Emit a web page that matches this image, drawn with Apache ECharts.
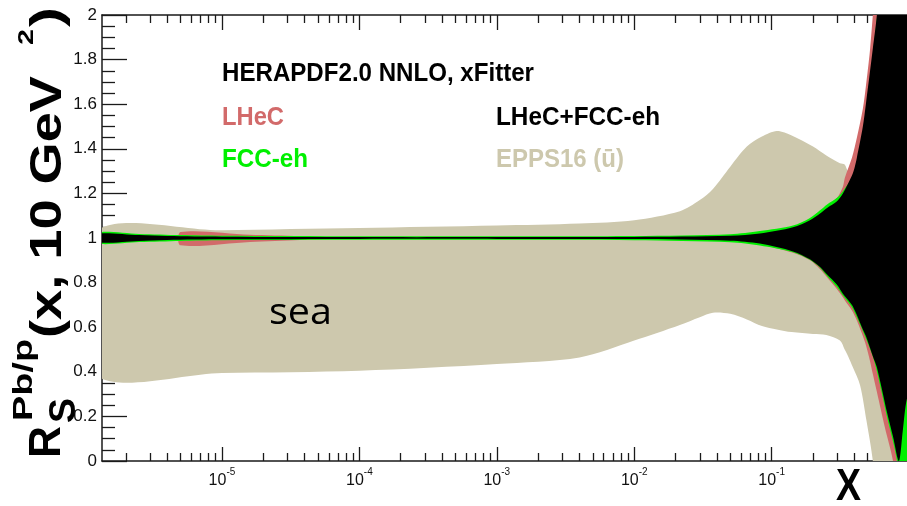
<!DOCTYPE html>
<html><head><meta charset="utf-8">
<script src="https://cdn.jsdelivr.net/npm/echarts@6/dist/echarts.min.js"></script>
<style>html,body{margin:0;padding:0;background:#fff}#c{width:907px;height:506px}</style>
</head><body><div id="c"></div>
<script>
// ---------------- data (x, lower bound, upper bound of each band) ----------------
const eppsX    = [1.2e-6, 1e-5, 1e-4, 1e-3, 4e-3, 0.01, 0.0215, 0.03, 0.0374, 0.05, 0.066, 0.085, 0.109, 0.14, 0.2, 0.25, 0.314, 0.34, 0.36, 0.39, 0.44, 0.49, 0.545, 0.6, 1.1];
const eppsHigh = [1.025, 1.035, 1.045, 1.056, 1.065, 1.08, 1.12, 1.17, 1.22, 1.32, 1.41, 1.455, 1.48, 1.46, 1.41, 1.37, 1.335, 1.33, 1.3, 1.3, 1.4, 1.5, 1.7, 1.9, 2.0];
const eppsLow  = [0.39, 0.395, 0.405, 0.435, 0.464, 0.54, 0.61, 0.645, 0.665, 0.66, 0.635, 0.605, 0.59, 0.578, 0.57, 0.565, 0.54, 0.5, 0.47, 0.42, 0.34, 0.18, 0.0, -0.3, -1.0];

const lhecX    = [5e-6, 1.6e-5, 3.7e-5, 6.4e-5, 1e-3, 0.01, 0.05, 0.082, 0.143, 0.19, 0.225, 0.253, 0.299, 0.33, 0.341, 0.384, 0.417, 0.461, 0.485, 0.519, 0.545, 0.583, 0.667, 0.764, 0.9, 1.1];
const lhecHigh = [1.027, 1.015, 1.009, 1.004, 1.003, 1.004, 1.012, 1.025, 1.05, 1.08, 1.115, 1.14, 1.18, 1.23, 1.27, 1.36, 1.45, 1.58, 1.68, 1.84, 2.0, 2.25, 2.8, 3.2, 3.5, 4.0];
const lhecLow  = [0.967, 0.982, 0.991, 0.996, 0.997, 0.995, 0.985, 0.97, 0.934, 0.9, 0.86, 0.824, 0.77, 0.734, 0.72, 0.675, 0.63, 0.56, 0.52, 0.45, 0.39, 0.31, 0.15, 0.0, -0.3, -0.6];

const fccX     = [1.2e-6, 2.5e-6, 5e-6, 1e-5, 1e-4, 1e-3, 0.01, 0.05, 0.082, 0.143, 0.19, 0.225, 0.253, 0.299, 0.33, 0.384, 0.417, 0.485, 0.563, 0.69, 0.817, 0.9, 1.1];
const fccHigh  = [1.024, 1.018, 1.013, 1.01, 1.008, 1.008, 1.009, 1.017, 1.031, 1.056, 1.09, 1.124, 1.15, 1.18, 1.21, 1.27, 1.33, 1.55, 1.9, 2.4, 2.8, 3.0, 3.0];
const fccLow   = [0.976, 0.982, 0.987, 0.99, 0.992, 0.992, 0.99, 0.981, 0.966, 0.936, 0.902, 0.867, 0.83, 0.78, 0.742, 0.69, 0.645, 0.55, 0.44, 0.2, 0.0, -0.3, -0.6];

const combX    = [1.2e-6, 2.5e-6, 4e-6, 1e-5, 1e-4, 1e-3, 0.01, 0.05, 0.082, 0.143, 0.19, 0.225, 0.253, 0.299, 0.33, 0.384, 0.403, 0.417, 0.461, 0.485, 0.545, 0.583, 0.69, 0.764, 0.844, 0.902, 0.966, 1.1];
const combHigh = [1.019, 1.013, 1.009, 1.006, 1.004, 1.004, 1.005, 1.01, 1.02, 1.048, 1.08, 1.11, 1.135, 1.165, 1.2, 1.28, 1.32, 1.36, 1.5, 1.6, 1.85, 2.0, 2.6, 3.0, 3.2, 3.4, 3.5, 3.6];
const combLow  = [0.981, 0.987, 0.991, 0.994, 0.996, 0.996, 0.995, 0.988, 0.975, 0.94, 0.905, 0.87, 0.836, 0.79, 0.75, 0.7, 0.675, 0.655, 0.59, 0.56, 0.47, 0.42, 0.22, 0.11, 0.0, 0.14, 0.28, 0.36];

// ---------------- axes: ticks and labels ----------------
const xRange = [1.34e-6, 0.966];
const xMajorTicks = [1e-5, 1e-4, 1e-3, 1e-2, 1e-1];
const xMajorLabels = ['-5', '-4', '-3', '-2', '-1'];
const xMinorTicks = [2e-6,3e-6,4e-6,5e-6,6e-6,7e-6,8e-6,9e-6,
  2e-5,3e-5,4e-5,5e-5,6e-5,7e-5,8e-5,9e-5,
  2e-4,3e-4,4e-4,5e-4,6e-4,7e-4,8e-4,9e-4,
  2e-3,3e-3,4e-3,5e-3,6e-3,7e-3,8e-3,9e-3,
  2e-2,3e-2,4e-2,5e-2,6e-2,7e-2,8e-2,9e-2,
  0.2,0.3,0.4,0.5,0.6,0.7,0.8,0.9];
const yTickLabels = ['0', '0.2', '0.4', '0.6', '0.8', '1', '1.2', '1.4', '1.6', '1.8', '2'];

const bands = [
  { name: 'EPPS16', x: eppsX, low: eppsLow, high: eppsHigh, color: '#cdc8ad' },
  { name: 'LHeC', x: lhecX, low: lhecLow, high: lhecHigh, color: '#d26a6a' },
  { name: 'FCC-eh', x: fccX, low: fccLow, high: fccHigh, color: '#00f000' },
  { name: 'LHeC+FCC-eh', x: combX, low: combLow, high: combHigh, color: '#000000' }
];

const lg = Math.log10;
const AX = '#1a1a1a';

function bandSeries(b) {
  return {
    type: 'custom', name: b.name, xAxisIndex: 0, yAxisIndex: 0, clip: true,
    data: [[lg(b.x[0]), b.low[0]]],
    renderItem: function (params, api) {
      const pts = [];
      for (let i = 0; i < b.x.length; i++) pts.push(api.coord([lg(b.x[i]), b.high[i]]));
      for (let i = b.x.length - 1; i >= 0; i--) pts.push(api.coord([lg(b.x[i]), b.low[i]]));
      return { type: 'polygon', shape: { points: pts, smooth: 0.3 }, style: { fill: b.color, stroke: null } };
    }
  };
}

// text fitting helper (layout only)
const mctx = document.createElement('canvas').getContext('2d');
function txt(text, font, fill, x, y, target, rot) {
  mctx.font = font;
  const s = target ? target / mctx.measureText(text).width : 1;
  return { type: 'text', x: x, y: y, rotation: rot || 0, scaleX: s, silent: true, z: 100,
    style: { text: text, font: font, fill: fill, align: 'left', verticalAlign: 'middle', textAlign: 'left', textVerticalAlign: 'middle' } };
}
const R90 = Math.PI / 2;
const HF = '"Liberation Sans", Arial, sans-serif';

const chart = echarts.init(document.getElementById('c'), null, { renderer: 'canvas' });
const gridRect = { left: 102, right: 0, top: 15, bottom: 45 };
const majorLogs = xMajorTicks.map(lg);
const minorLogs = xMinorTicks.map(lg);
const tickLine = { color: AX, width: 1.3 };

chart.setOption({
  animation: false,
  backgroundColor: '#ffffff',
  grid: [Object.assign({}, gridRect), Object.assign({}, gridRect)],
  xAxis: [
    { gridIndex: 0, type: 'value', position: 'bottom', min: lg(xRange[0]), max: lg(xRange[1]),
      axisLine: { show: true, onZero: false, lineStyle: { color: AX, width: 1.5 } },
      axisTick: { show: true, inside: true, length: 14, customValues: majorLogs, lineStyle: tickLine },
      axisLabel: { show: true, customValues: majorLogs, margin: 6,
        formatter: function (v) {
          const i = majorLogs.findIndex(m => Math.abs(m - v) < 1e-6);
          return i < 0 ? '' : '{b|10}{s|' + xMajorLabels[i] + '}';
        },
        rich: {
          b: { fontSize: 16, fontFamily: 'Liberation Sans, sans-serif', color: '#111', lineHeight: 22, verticalAlign: 'bottom' },
          s: { fontSize: 10, fontFamily: 'Liberation Sans, sans-serif', color: '#111', lineHeight: 12, verticalAlign: 'top' }
        } },
      splitLine: { show: false } },
    { gridIndex: 0, type: 'value', position: 'top', min: lg(xRange[0]), max: lg(xRange[1]),
      axisLine: { show: true, onZero: false, lineStyle: { color: AX, width: 1.5 } },
      axisTick: { show: true, inside: true, length: 15, customValues: majorLogs, lineStyle: tickLine },
      axisLabel: { show: false }, splitLine: { show: false } },
    { gridIndex: 1, type: 'value', position: 'bottom', min: lg(xRange[0]), max: lg(xRange[1]),
      axisLine: { show: false, onZero: false },
      axisTick: { show: true, inside: true, length: 8, customValues: minorLogs, lineStyle: tickLine },
      axisLabel: { show: false }, splitLine: { show: false } },
    { gridIndex: 1, type: 'value', position: 'top', min: lg(xRange[0]), max: lg(xRange[1]),
      axisLine: { show: false, onZero: false },
      axisTick: { show: true, inside: true, length: 8, customValues: minorLogs, lineStyle: tickLine },
      axisLabel: { show: false }, splitLine: { show: false } }
  ],
  yAxis: [
    { gridIndex: 0, type: 'value', position: 'left', min: 0, max: 2, interval: 0.2,
      axisLine: { show: true, onZero: false, lineStyle: { color: AX, width: 1.5 } },
      axisTick: { show: true, inside: true, length: 25, lineStyle: tickLine },
      minorTick: { show: true, splitNumber: 4, length: 13, lineStyle: tickLine },
      axisLabel: { show: true, margin: 5, fontSize: 17, color: '#111',
        fontFamily: 'Liberation Sans Narrow, Liberation Sans, sans-serif',
        formatter: function (v) { return yTickLabels[Math.round(v / 0.2)] || ''; } },
      splitLine: { show: false } },
    { gridIndex: 1, type: 'value', min: 0, max: 2, show: false }
  ],
  series: bands.map(bandSeries),
  graphic: { elements: [
    txt('HERAPDF2.0 NNLO, xFitter', 'bold 26px ' + HF, '#000', 222, 73.5, 312),
    txt('LHeC', 'bold 26px ' + HF, '#d26a6a', 222, 118, 62),
    txt('LHeC+FCC-eh', 'bold 26px ' + HF, '#000', 496, 118, 164),
    txt('FCC-eh', 'bold 26px ' + HF, '#00f000', 222, 160, 86),
    txt('EPPS16 (ū)', 'bold 26px ' + HF, '#cdc8ad', 496, 160, 128),
    txt('sea', '36px "Open Sans", sans-serif', '#000', 269, 314, 63),
    txt('X', 'bold 44px ' + HF, '#000', 836, 488, 25),
    txt('R', 'bold 44px ' + HF, '#000', 47.5, 458, 32, R90),
    txt('Pb/p', 'bold 28px ' + HF, '#000', 24.5, 421, 82, R90),
    txt('S', 'bold 36px ' + HF, '#000', 65, 423, 25, R90),
    txt('(x, 10 GeV', 'bold 44px ' + HF, '#000', 48.6, 338, 262, R90),
    txt('2', 'bold 22px ' + HF, '#000', 26.5, 45, 16, R90),
    txt(')', 'bold 44px ' + HF, '#000', 48.6, 27, 20, R90)
  ] }
});
</script>
</body></html>
